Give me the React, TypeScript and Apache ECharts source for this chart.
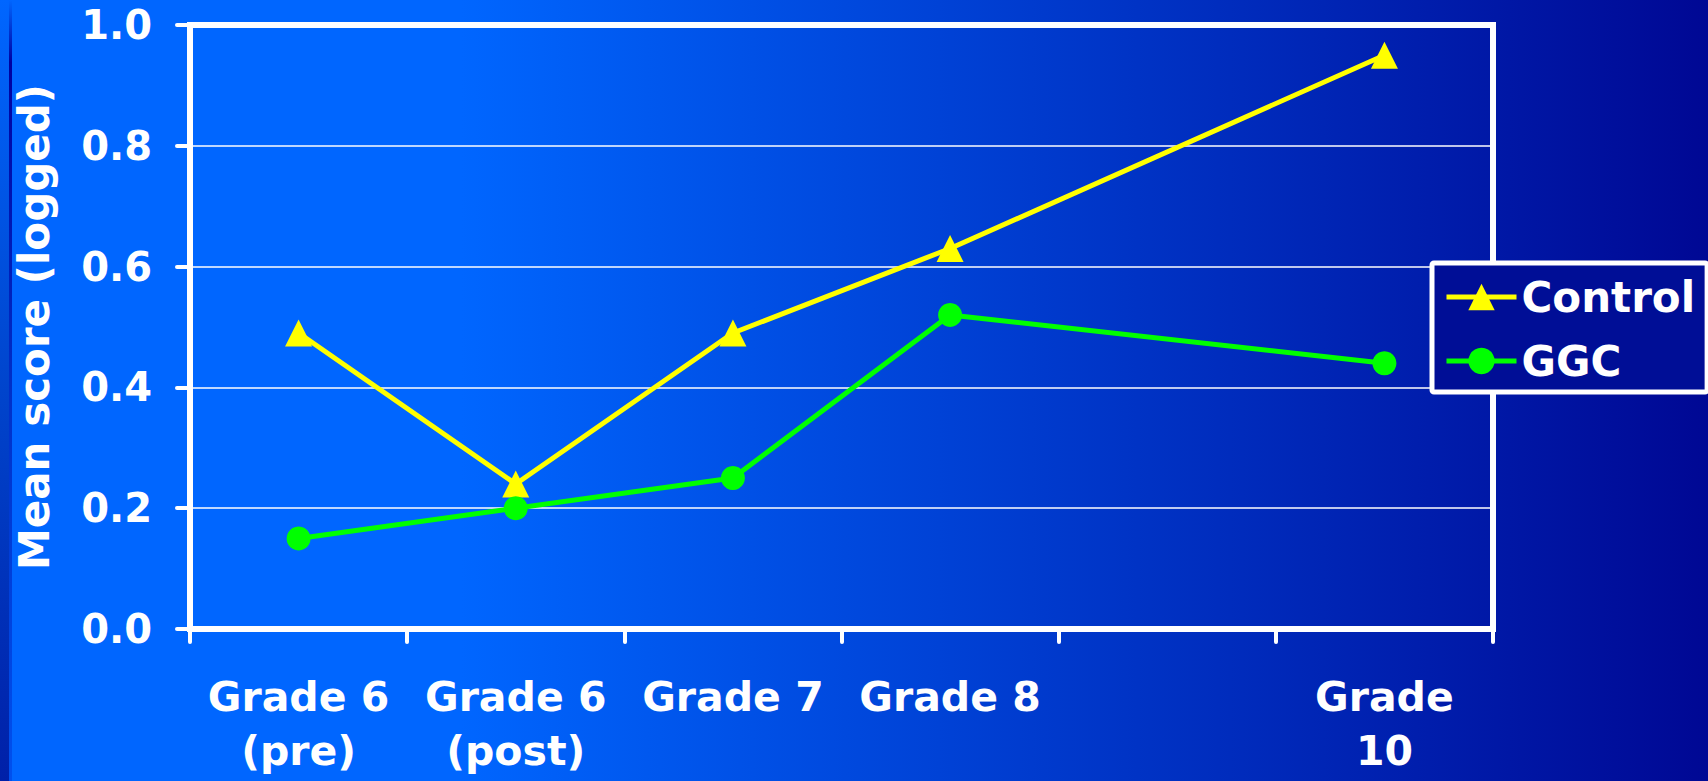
import React, { useEffect, useRef } from "react";
import * as echarts from "echarts";

const categories = ["Grade 6\n(pre)", "Grade 6\n(post)", "Grade 7", "Grade 8", "", "Grade\n10"];
const controlValues = [0.49, 0.24, 0.49, 0.63, null, 0.95];
const ggcValues = [0.15, 0.2, 0.25, 0.52, null, 0.44];
const seriesNames = ["Control", "GGC"];
const yAxisTitle = "Mean score (logged)";

const FONT = "DejaVu Sans";

export default function App() {
  const ref = useRef<HTMLDivElement>(null);

  useEffect(() => {
    document.body.style.margin = "0";
    if (!ref.current) return;
    const chart = echarts.init(ref.current, null, { renderer: "svg" });
    const labelStyle = {
      color: "#ffffff",
      fontSize: 41,
      fontWeight: "bold" as const,
      fontFamily: FONT,
    };
    chart.setOption({
      animation: false,
      backgroundColor: "transparent",
      textStyle: { fontFamily: FONT },
      grid: {
        left: 190,
        right: 215,
        top: 25,
        bottom: 152,
        show: true,
        borderColor: "#ffffff",
        borderWidth: 6,
        backgroundColor: "transparent",
      },
      xAxis: {
        type: "category",
        data: categories,
        boundaryGap: true,
        axisLine: { show: true, lineStyle: { color: "#ffffff", width: 6 } },
        axisTick: {
          show: true,
          length: 13,
          lineStyle: { color: "#ffffff", width: 4, cap: "round" },
        },
        axisLabel: { ...labelStyle, interval: 0, lineHeight: 54, margin: 41 },
        splitLine: { show: false },
      },
      yAxis: {
        type: "value",
        min: 0,
        max: 1,
        interval: 0.2,
        name: yAxisTitle,
        nameLocation: "middle",
        nameGap: 135,
        nameTextStyle: { ...labelStyle, fontSize: 42 },
        axisLine: { show: true, lineStyle: { color: "#ffffff", width: 6 } },
        axisTick: {
          show: true,
          length: 13,
          lineStyle: { color: "#ffffff", width: 4, cap: "round" },
        },
        axisLabel: {
          ...labelStyle,
          fontSize: 40,
          margin: 38,
          formatter: (v: number) => v.toFixed(1),
        },
        splitLine: { show: true, lineStyle: { color: "#ffffff", width: 1.5 } },
      },
      legend: {
        orient: "vertical",
        left: 1432,
        top: 263,
        padding: [13, 12, 10, 12],
        itemWidth: 70,
        itemHeight: 33,
        itemGap: 22,
        backgroundColor: "#000E96",
        borderColor: "#ffffff",
        borderWidth: 5,
        borderRadius: 2,
        lineStyle: { width: 5 },
        textStyle: { ...labelStyle, fontSize: 42, lineHeight: 41 },
        data: seriesNames,
      },
      series: [
        {
          name: seriesNames[0],
          type: "line",
          data: controlValues,
          connectNulls: true,
          symbol: "triangle",
          symbolSize: 27,
          itemStyle: { color: "#FFFF00" },
          lineStyle: { color: "#FFFF00", width: 5 },
        },
        {
          name: seriesNames[1],
          type: "line",
          data: ggcValues,
          connectNulls: true,
          symbol: "circle",
          symbolSize: 24,
          itemStyle: { color: "#00FF00" },
          lineStyle: { color: "#00FF00", width: 5 },
        },
      ],
    });
    return () => chart.dispose();
  }, []);

  const bg = [
    "linear-gradient(to bottom, #0066FF 0%, #0044CC 50%, #0020A8 100%) 0 0 / 9px 100% no-repeat",
    "linear-gradient(to bottom, #0066FF 0%, #0000A0 8%, #0030C8 50%, #0050EE 100%) 9px 0 / 3px 100% no-repeat",
    "linear-gradient(to right, #0066FF 0%, #0066FF 27%, #000894 100%)",
  ].join(", ");

  return (
    <div
      style={{
        position: "fixed",
        left: 0,
        top: 0,
        width: 1708,
        height: 781,
        background: bg,
      }}
    >
      <div ref={ref} style={{ width: 1708, height: 781 }} />
    </div>
  );
}
